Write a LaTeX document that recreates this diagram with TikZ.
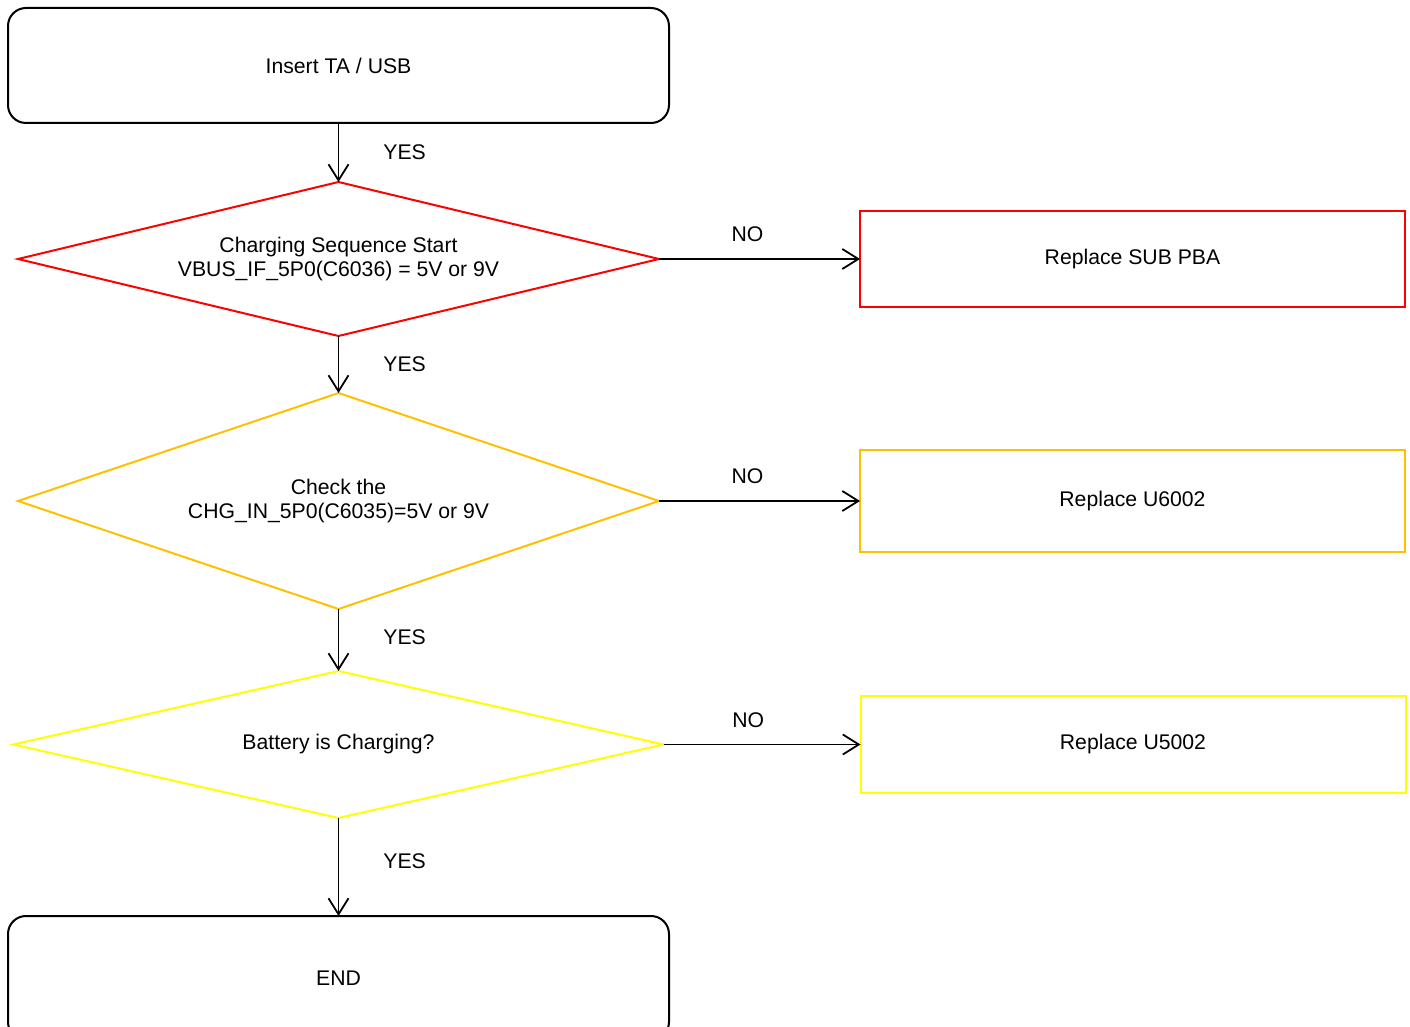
\documentclass[tikz,border=0pt]{standalone}
\usepackage{fontspec}
\setmainfont{Liberation Sans}
\usepackage{tikz}
\usetikzlibrary{positioning,arrows.meta,shapes.geometric}

\definecolor{chkred}{RGB}{255,0,0}
\definecolor{chkorange}{RGB}{255,192,0}
\definecolor{chkyellow}{RGB}{255,255,0}

\begin{document}
\begin{tikzpicture}[
  font=\fontsize{10.6}{12}\selectfont,
  term/.style={draw, line width=1pt, outer sep=0pt, rounded corners=9pt, align=center, minimum width=330.5pt, minimum height=57.5pt},
  dec/.style={draw, diamond, aspect=4.2, align=center, inner sep=0pt, outer sep=0pt, line width=1pt},
  fix/.style={draw, rectangle, align=center, line width=1pt, outer sep=0pt, minimum width=272.5pt},
  lbl/.style={inner sep=2pt},
  ar/.style={-{Straight Barb[length=8pt, width=10pt]}, line width=0.9pt}]
\useasboundingbox (0,0) rectangle (705pt,-513.5pt);
\node[term] (insert) at (169.25pt,-32.75pt) {Insert TA / USB};
\node[dec, draw=chkred, minimum width=320.5pt, minimum height=77pt, below=29.5pt of insert] (seq) {Charging Sequence Start\\VBUS\_IF\_5P0(C6036) = 5V or 9V};
\node[dec, draw=chkorange, minimum width=320.5pt, minimum height=108pt, below=28.5pt of seq] (chgin) {Check the\\CHG\_IN\_5P0(C6035)=5V or 9V};
\node[dec, draw=chkyellow, minimum width=325pt, minimum height=73.5pt, below=31pt of chgin] (batt) {Battery is Charging?};
\node[term, minimum height=62pt, below=49pt of batt] (done) {END};
% replacement boxes on the NO side
\node[fix, draw=chkred, minimum height=48pt, right=100.5pt of seq] (subpba) {Replace SUB PBA};
\node[fix, draw=chkorange, minimum height=51pt, right=100.5pt of chgin] (u6002) {Replace U6002};
\node[fix, draw=chkyellow, minimum height=48.5pt, right=98.5pt of batt] (u5002) {Replace U5002};
\draw[ar] (insert) -- node[lbl, midway, right=20pt]{YES} (seq);
\draw[ar] (seq) -- node[lbl, midway, right=20pt]{YES} (chgin);
\draw[ar] (chgin) -- node[lbl, pos=0.45, right=20pt]{YES} (batt);
\draw[ar] (batt) -- node[lbl, pos=0.44, right=20pt]{YES} (done);
\draw[ar] (seq.east) -- node[lbl, pos=0.44, above=6pt]{NO} (subpba.west);
\draw[ar] (chgin.east) -- node[lbl, pos=0.44, above=6pt]{NO} (u6002.west);
\draw[ar] (batt.east) -- node[lbl, pos=0.43, above=6pt]{NO} (u5002.west);
\end{tikzpicture}
\end{document}
